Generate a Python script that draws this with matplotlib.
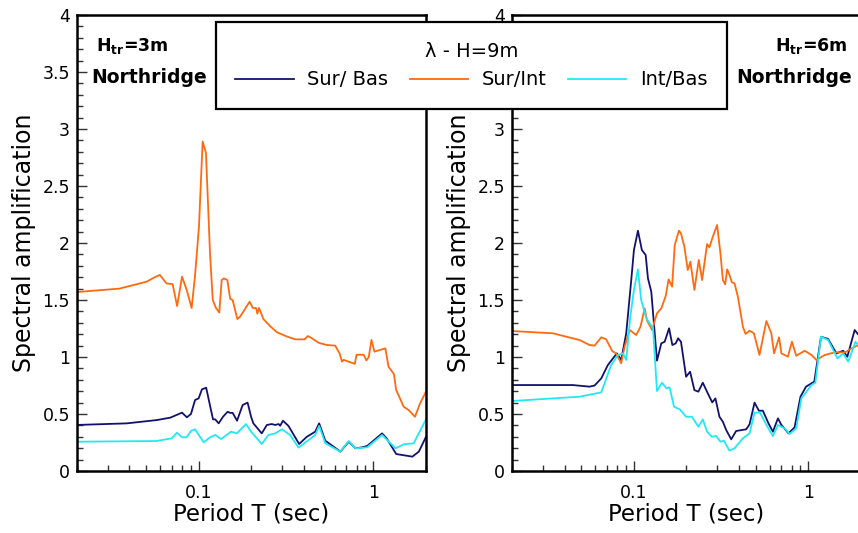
"""Spectral amplification ratios, H=9m, Northridge record, two trench depths."""

import numpy as np
import matplotlib.pyplot as plt
from matplotlib.ticker import LogLocator, FixedLocator, MultipleLocator, FormatStrFormatter, NullFormatter

plt.rcParams["font.family"] = ["DejaVu Sans"]
plt.rcParams["mathtext.fontset"] = "dejavusans"

# --- Htr = 3m (left panel) ---
t3_si = [0.02, 0.035, 0.05, 0.0558, 0.0597, 0.0652, 0.0706, 0.075, 0.080, 0.085, 0.0908, 0.0948,
         0.1, 0.105, 0.1097, 0.1157, 0.120, 0.1252, 0.1308, 0.135, 0.139, 0.1455, 0.151, 0.156,
         0.166, 0.172, 0.180, 0.195, 0.2035, 0.2125, 0.216, 0.221, 0.234, 0.256, 0.280, 0.319,
         0.356, 0.402, 0.421, 0.438, 0.485, 0.541, 0.604, 0.640, 0.66, 0.675, 0.782, 0.80, 0.88,
         0.91, 0.94, 0.974, 1.013, 1.17, 1.22, 1.31, 1.35, 1.49, 1.59, 1.73, 1.85, 2.0]
a3_si = [1.57, 1.60, 1.66, 1.70, 1.72, 1.645, 1.64, 1.447, 1.705, 1.59, 1.43, 1.70,
         2.14, 2.89, 2.79, 1.91, 1.50, 1.43, 1.39, 1.675, 1.69, 1.675, 1.51, 1.50,
         1.333, 1.354, 1.40, 1.485, 1.43, 1.43, 1.38, 1.43, 1.333, 1.27, 1.217, 1.18,
         1.155, 1.155, 1.184, 1.17, 1.125, 1.105, 1.10, 1.03, 0.96, 0.975, 0.94, 1.02, 1.02,
         0.97, 1.00, 1.15, 1.047, 1.076, 0.915, 0.85, 0.71, 0.564, 0.535, 0.476, 0.594, 0.696]

t3_sb = [0.02, 0.0386, 0.0574, 0.0685, 0.080, 0.0853, 0.090, 0.095, 0.0996, 0.104, 0.110, 0.1204,
         0.124, 0.1297, 0.1374, 0.146, 0.151, 0.156, 0.1653, 0.178, 0.19, 0.199, 0.205, 0.229,
         0.245, 0.2617, 0.2733, 0.286, 0.292, 0.303, 0.326, 0.375, 0.415, 0.4636, 0.4885, 0.5296,
         0.5915, 0.6463, 0.722, 0.79, 0.862, 0.92, 0.96, 1.12, 1.19, 1.35, 1.67, 1.82, 2.0]
a3_sb = [0.404, 0.418, 0.447, 0.468, 0.512, 0.471, 0.50, 0.623, 0.637, 0.716, 0.731, 0.453,
         0.453, 0.418, 0.476, 0.52, 0.51, 0.51, 0.441, 0.579, 0.60, 0.476, 0.418, 0.33,
         0.404, 0.412, 0.404, 0.412, 0.397, 0.441, 0.395, 0.237, 0.30, 0.345, 0.418, 0.266,
         0.213, 0.17, 0.257, 0.199, 0.208, 0.22, 0.243, 0.33, 0.287, 0.149, 0.126, 0.17, 0.30]

t3_ib = [0.02, 0.057, 0.070, 0.0747, 0.080, 0.085, 0.090, 0.095, 0.1064, 0.116, 0.124, 0.134,
         0.1527, 0.165, 0.186, 0.199, 0.229, 0.250, 0.273, 0.299, 0.333, 0.372, 0.4246, 0.4636,
         0.4885, 0.53, 0.646, 0.722, 0.79, 0.92, 1.12, 1.34, 1.49, 1.70, 2.0]
a3_ib = [0.257, 0.263, 0.287, 0.336, 0.296, 0.296, 0.351, 0.366, 0.252, 0.296, 0.316, 0.28,
         0.345, 0.33, 0.412, 0.345, 0.237, 0.316, 0.33, 0.366, 0.316, 0.205, 0.272, 0.316,
         0.395, 0.243, 0.17, 0.263, 0.199, 0.208, 0.316, 0.199, 0.234, 0.243, 0.453]

# --- Htr = 6m (right panel) ---
t6_si = [0.02, 0.0343, 0.0488, 0.0557, 0.0595, 0.065, 0.0693, 0.075, 0.079, 0.0845, 0.0884,
         0.0945, 0.103, 0.109, 0.1152, 0.119, 0.127, 0.1355, 0.1435, 0.152, 0.158, 0.1654,
         0.1713, 0.181, 0.186, 0.1945, 0.2034, 0.2105, 0.222, 0.2352, 0.2458, 0.2625, 0.2705,
         0.283, 0.2996, 0.313, 0.3233, 0.3333, 0.342, 0.3528, 0.3642, 0.377, 0.394, 0.421, 0.436,
         0.4597, 0.487, 0.524, 0.574, 0.6125, 0.635, 0.6787, 0.6995, 0.7625, 0.804, 0.851,
         0.951, 1.04, 1.11, 1.24, 1.416, 1.62, 1.77, 1.93, 2.0]
a6_si = [1.228, 1.208, 1.149, 1.105, 1.10, 1.173, 1.155, 1.053, 1.032, 0.945, 1.09,
         1.237, 1.193, 1.266, 1.427, 1.318, 1.237, 1.383, 1.427, 1.535, 1.68, 1.617,
         1.982, 2.108, 2.085, 1.968, 1.763, 1.836, 1.588, 1.851, 1.675, 1.991, 1.962,
         2.055, 2.158, 1.909, 1.675, 1.637, 1.769, 1.719, 1.655, 1.646, 1.529, 1.266, 1.202,
         1.231, 1.208, 1.018, 1.316, 1.208, 1.032, 1.173, 1.032, 1.003, 1.134, 1.011,
         1.055, 1.018, 0.974, 1.018, 1.041, 1.041, 1.076, 1.105, 1.06]

t6_sb = [0.02, 0.0446, 0.0557, 0.0595, 0.065, 0.0709, 0.0798, 0.0845, 0.0903, 0.0965, 0.1,
         0.1054, 0.111, 0.1167, 0.1203, 0.1257, 0.1355, 0.1435, 0.15, 0.159, 0.166, 0.1735,
         0.179, 0.186, 0.199, 0.2097, 0.222, 0.234, 0.248, 0.265, 0.281, 0.293, 0.309, 0.3233,
         0.3377, 0.3608, 0.385, 0.4399, 0.4597, 0.491, 0.52, 0.548, 0.59, 0.6253, 0.6685, 0.6995,
         0.7692, 0.8325, 0.9, 0.968, 1.08, 1.18, 1.296, 1.446, 1.58, 1.67, 1.84, 1.96]
a6_sb = [0.754, 0.754, 0.74, 0.75, 0.813, 0.93, 1.032, 0.974, 1.208, 1.675, 1.939,
         2.108, 1.939, 1.895, 1.69, 1.573, 0.968, 1.12, 1.134, 1.252, 1.105, 1.12,
         1.164, 1.134, 0.827, 0.871, 0.71, 0.696, 0.775, 0.681, 0.602, 0.637, 0.476, 0.432,
         0.36, 0.278, 0.351, 0.366, 0.41, 0.60, 0.529, 0.529, 0.418, 0.345, 0.462, 0.404,
         0.33, 0.383, 0.652, 0.74, 0.784, 1.178, 1.158, 1.032, 1.055, 1.003, 1.237, 1.184]

t6_ib = [0.02, 0.0488, 0.065, 0.074, 0.081, 0.0865, 0.0903, 0.0953, 0.1, 0.1054, 0.110, 0.1177,
         0.1286, 0.1355, 0.1448, 0.1533, 0.160, 0.1697, 0.183, 0.199, 0.2146, 0.234, 0.248,
         0.2625, 0.279, 0.2959, 0.313, 0.3275, 0.3528, 0.377, 0.421, 0.4597, 0.491, 0.528,
         0.574, 0.6253, 0.6685, 0.731, 0.78, 0.851, 0.91, 1.04, 1.095, 1.18, 1.296, 1.466,
         1.58, 1.69, 1.86, 1.96]
a6_ib = [0.614, 0.652, 0.69, 0.93, 1.018, 1.032, 0.974, 1.354, 1.588, 1.769, 1.50, 1.34,
         1.252, 0.702, 0.775, 0.725, 0.734, 0.564, 0.541, 0.476, 0.476, 0.389, 0.453,
         0.345, 0.301, 0.307, 0.257, 0.266, 0.178, 0.199, 0.287, 0.33, 0.512, 0.512,
         0.404, 0.307, 0.404, 0.374, 0.325, 0.374, 0.637, 0.754, 0.775, 1.178, 1.149, 0.988,
         1.032, 0.959, 1.134, 1.09]

c_sb = "#12126e"
c_si = "#ff6a10"
c_ib = "#22e8f4"

panels = [
    ("3m", t3_sb, a3_sb, t3_si, a3_si, t3_ib, a3_ib),
    ("6m", t6_sb, a6_sb, t6_si, a6_si, t6_ib, a6_ib),
]

fig = plt.figure(figsize=(8.58, 5.33), dpi=100)
ax_l = fig.add_axes([0.0897, 0.1163, 0.4068, 0.8555])
ax_r = fig.add_axes([0.5967, 0.1163, 0.4068, 0.8555])

for ax, (htr, tsb, asb, tsi, asi, tib, aib) in zip([ax_l, ax_r], panels):
    ax.plot(tsb, asb, color=c_sb, lw=1.3, label="Sur/ Bas")
    ax.plot(tsi, asi, color=c_si, lw=1.3, label="Sur/Int")
    ax.plot(tib, aib, color=c_ib, lw=1.3, label="Int/Bas")
    ax.set_xscale("log")
    ax.set_xlim(0.02, 2)
    ax.set_ylim(0, 4)
    ax.xaxis.set_major_locator(FixedLocator([0.1, 1]))
    ax.xaxis.set_major_formatter(FormatStrFormatter("%g"))
    ax.xaxis.set_minor_locator(LogLocator(base=10, subs=np.arange(2, 10)))
    ax.xaxis.set_minor_formatter(NullFormatter())
    ax.yaxis.set_major_locator(MultipleLocator(0.5))
    ax.yaxis.set_minor_locator(MultipleLocator(0.1))
    ax.yaxis.set_major_formatter(FormatStrFormatter("%g"))
    ax.tick_params(which="both", direction="in", top=False, right=False, labelsize=12.5, color="#333333")
    ax.tick_params(axis="x", which="major", length=7.5, width=1, pad=9)
    ax.tick_params(axis="y", which="major", length=7.5, width=1, pad=5)
    ax.tick_params(which="minor", length=4.5, width=1)
    for s in ax.spines.values():
        s.set_linewidth(1.8)
    ax.set_xlabel("Period T (sec)", fontsize=16.5, labelpad=1)
    ax.set_ylabel("Spectral amplification", fontsize=17, labelpad=5)

ax_l.text(0.054, 0.932, r"$\mathbf{H}_{\mathbf{tr}}$=3m", transform=ax_l.transAxes,
          fontsize=12.5, fontweight="bold", va="center", ha="left")
ax_l.text(0.04, 0.862, "Northridge", transform=ax_l.transAxes,
          fontsize=13.5, fontweight="bold", va="center", ha="left")
ax_r.text(0.962, 0.932, r"$\mathbf{H}_{\mathbf{tr}}$=6m", transform=ax_r.transAxes,
          fontsize=12.5, fontweight="bold", va="center", ha="right")
ax_r.text(0.975, 0.862, "Northridge", transform=ax_r.transAxes,
          fontsize=13.5, fontweight="bold", va="center", ha="right")

handles, labels = ax_l.get_legend_handles_labels()
leg = fig.legend(handles, labels, ncol=3, title="λ - H=9m", title_fontsize=14, fontsize=14,
                 loc="center", bbox_to_anchor=(0.5495, 0.8771),
                 fancybox=False, framealpha=1, edgecolor="black", handlelength=3.0,
                 handletextpad=0.7, columnspacing=1.1, borderpad=1.0, borderaxespad=0)
leg.get_frame().set_linewidth(1.6)

plt.savefig("out.png", dpi=100)
